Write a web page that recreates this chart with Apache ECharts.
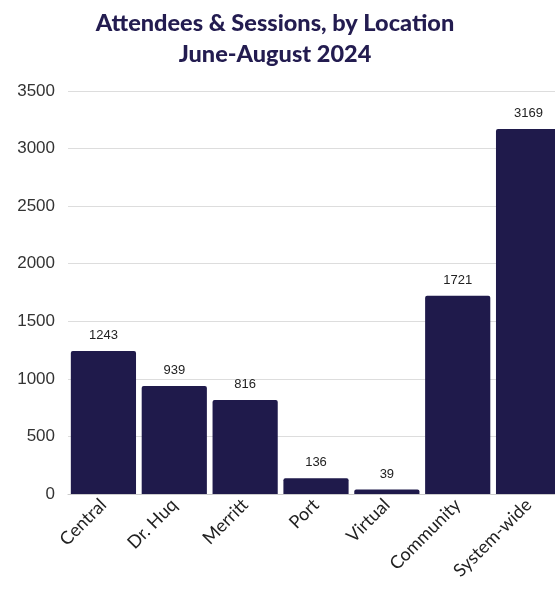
<!DOCTYPE html>
<html><head><meta charset="utf-8">
<script src="https://cdn.jsdelivr.net/npm/echarts@6/dist/echarts.min.js"></script>
<style>html,body{margin:0;padding:0;background:#fff}#c{width:555px;height:600px}</style>
</head><body><div id="c"></div>
<script>
const categories = ["Central", "Dr. Huq", "Merritt", "Port", "Virtual", "Community", "System-wide"];
const values = [1243, 939, 816, 136, 39, 1721, 3169];
const titleLines = ["Attendees & Sessions, by Location", "June-August 2024"];

const chart = echarts.init(document.getElementById('c'), null, {renderer: 'canvas'});
chart.setOption({
  animation: false,
  title: {
    text: titleLines.join('\n'),
    left: 270, top: 3, textAlign: 'center',
    textStyle: {fontFamily: 'Lato', fontWeight: 900, fontSize: 23.5, color: '#231c50', lineHeight: 31}
  },
  grid: {left: 68, width: 496, top: 91, bottom: 106, containLabel: false, outerBoundsMode: 'none'},
  xAxis: {
    type: 'category', data: categories,
    axisTick: {show: false},
    axisLine: {show: true, lineStyle: {color: '#cccccc'}},
    axisLabel: {rotate: 45, interval: 0, margin: 8, fontFamily: 'Lato', fontSize: 18, color: '#222222'}
  },
  yAxis: {
    type: 'value', min: 0, max: 3500, interval: 500,
    axisLabel: {fontFamily: 'Liberation Sans', fontSize: 17, color: '#333333', margin: 13, formatter: v => String(v)},
    splitLine: {lineStyle: {color: '#dddddd'}}
  },
  series: [{
    type: 'bar', data: values, barCategoryGap: '8%',
    itemStyle: {color: '#1f1a4b', borderRadius: [2, 2, 0, 0]},
    label: {show: true, position: 'top', distance: 9, fontFamily: 'Liberation Sans', fontSize: 13, color: '#222222'}
  }]
});
</script></body></html>
